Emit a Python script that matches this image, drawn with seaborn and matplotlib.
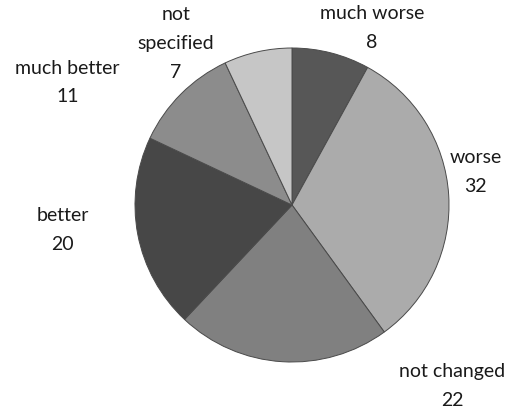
import matplotlib
matplotlib.use("Agg")
import matplotlib.pyplot as plt
import seaborn as sns

categories = ["much worse", "worse", "not changed", "better", "much better", "not specified"]
values = [8, 32, 22, 20, 11, 7]
label_text = ["much worse\n8", "worse\n32", "not changed\n22", "better\n20", "much better\n11", "not\nspecified\n7"]
colors = ["#575757", "#ababab", "#808080", "#474747", "#8c8c8c", "#c6c6c6"]

# label anchor positions in pie units (radius = 1)
label_pos = [(0.51, 1.13), (1.17, 0.21), (1.02, -1.15), (-1.46, -0.16), (-1.43, 0.78), (-0.74, 1.03)]

sns.set_theme(style="white")
plt.rcParams['font.family'] = ['Lato', 'DejaVu Sans']

W, H = 517, 412
cx, cy, r = 292, 205, 157
fig = plt.figure(figsize=(W / 100, H / 100), dpi=100)
ax = fig.add_axes([(cx - r) / W, (H - cy - r) / H, 2 * r / W, 2 * r / H])

ax.pie(values, colors=colors, startangle=90, counterclock=False, radius=1,
       wedgeprops=dict(edgecolor="#4a4a4a", linewidth=0.7))

for txt, (x, y) in zip(label_text, label_pos):
    ax.text(x, y, txt, ha="center", va="center", fontsize=14,
            color="#1a1a1a", linespacing=1.85, clip_on=False)

ax.set_xlim(-1, 1)
ax.set_ylim(-1, 1)
ax.set_aspect("equal")
ax.axis("off")

fig.savefig("out.png", dpi=100)
